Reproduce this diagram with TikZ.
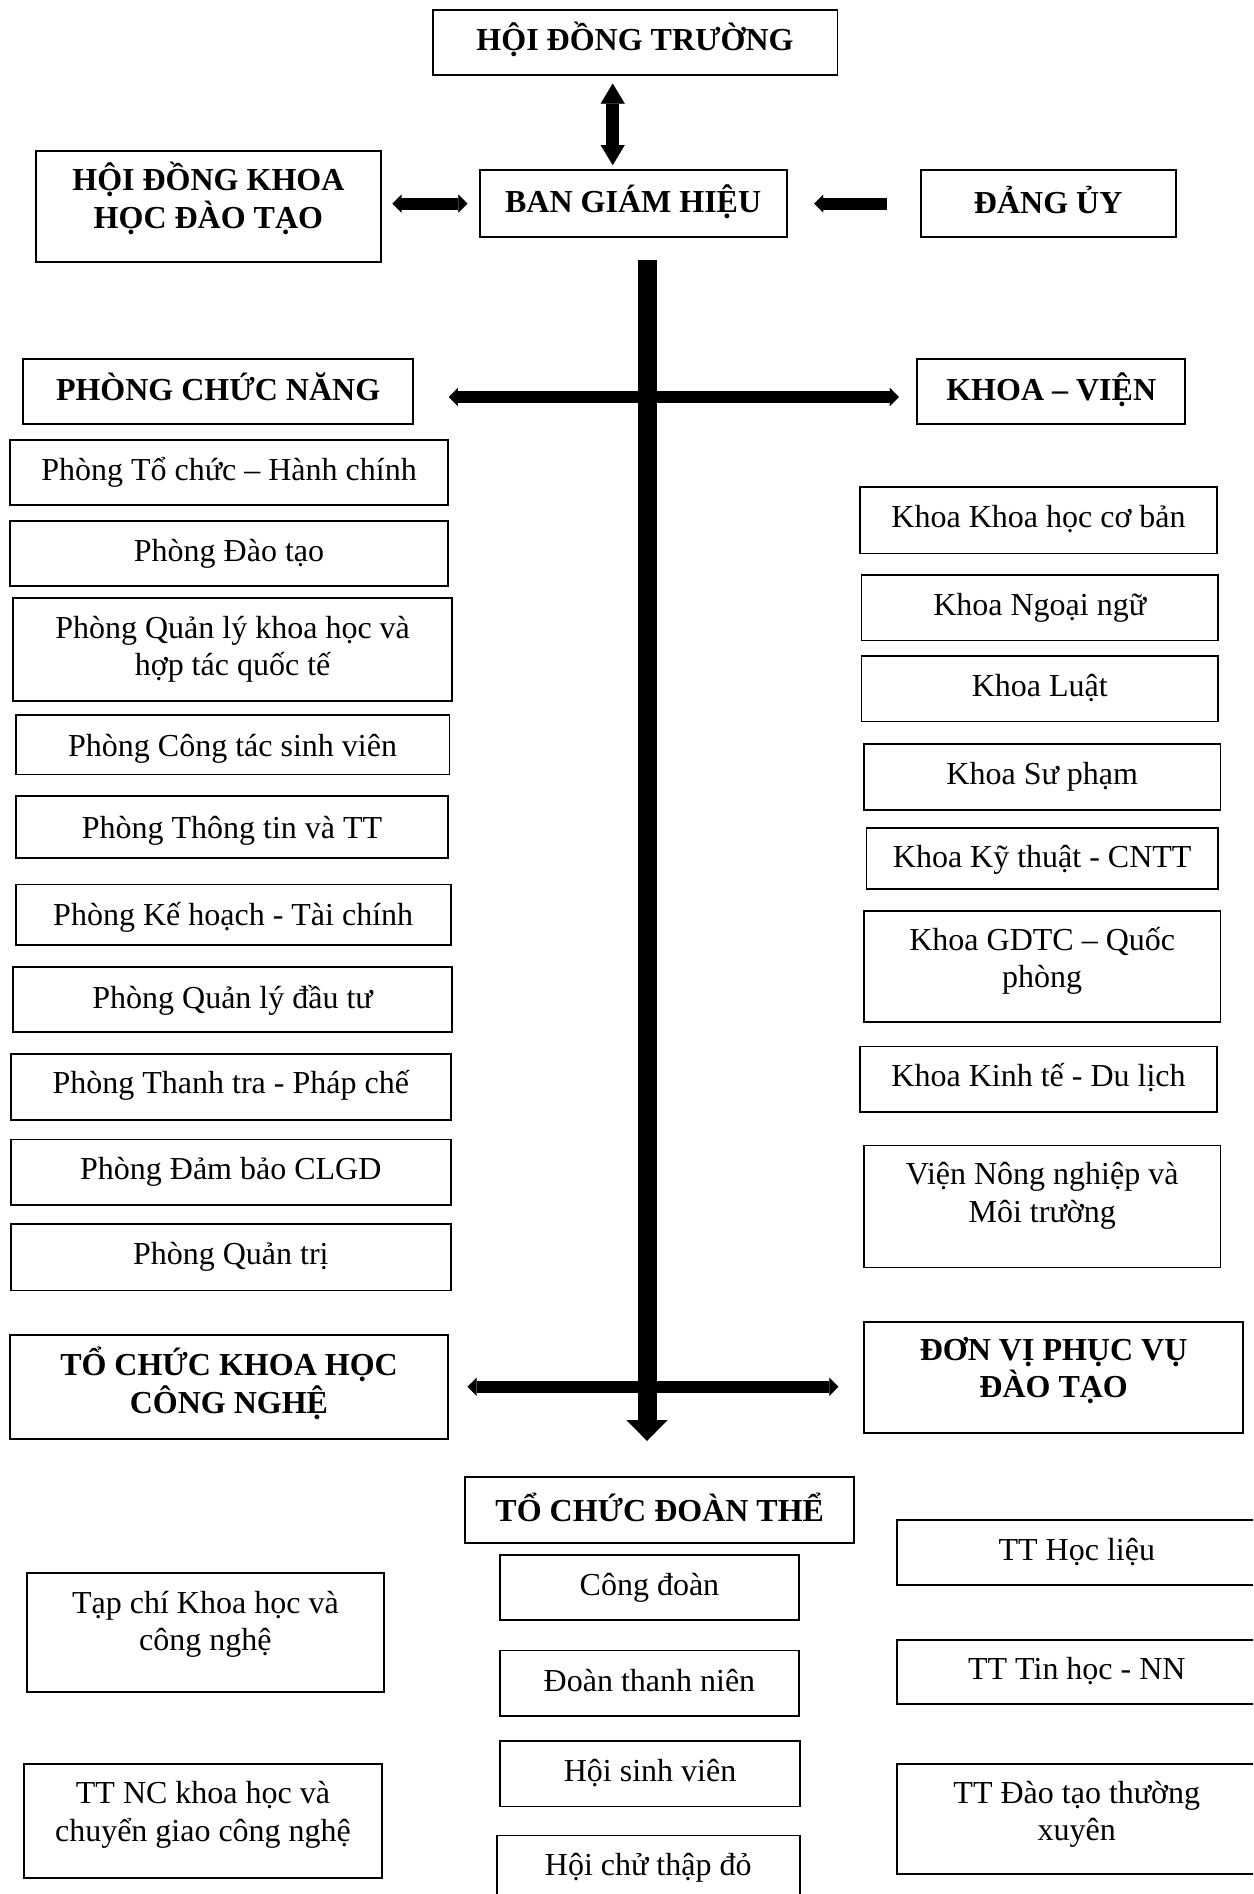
\documentclass[tikz,border=0pt]{standalone}
\usepackage{fontspec}
\setmainfont{Liberation Serif}
\usetikzlibrary{arrows.meta,calc,fit}
\tikzset{
  box/.style={draw, line width=1.8pt, inner sep=0pt, rectangle},
  txt/.style={align=center, inner sep=0pt, font=\fontsize{32}{37.5}\selectfont},
  btxt/.style={align=center, inner sep=0pt, font=\fontsize{32}{37.5}\selectfont\bfseries},
  dblv/.style={line width=12.7pt, arrows={Triangle[length=20pt,width=24pt,line width=0.1pt]-Triangle[length=20pt,width=24pt,line width=0.1pt]}},
  dblh/.style={line width=12pt, arrows={Triangle[length=9pt,width=18pt,line width=0.1pt]-Triangle[length=9pt,width=18pt,line width=0.1pt]}},
  sglh/.style={line width=12pt, arrows={-Triangle[length=9pt,width=18pt,line width=0.1pt]}},
  trunk/.style={line width=19pt, arrows={-Triangle[length=20.7pt,width=41pt,line width=0.1pt]}},
}
\newcommand\mybox[8]{%
  \node[box, fit={(#2,#3)(#4,#5)}] (#1) {};
  \node[#7] (#1t) at ($(#1.center)+(0,#6)$) {#8};
}
\begin{document}
\begin{tikzpicture}[x=1pt,y=-1pt]
\clip (0,0) rectangle (1253,1894);
\fill[white] (0,0) rectangle (1253,1894);
% top
\mybox{hdt}{432.6}{9.7}{837.4}{74.9}{-3}{btxt}{HỘI ĐỒNG TRƯỜNG}
\mybox{hdkh}{36.2}{151}{380.6}{262.2}{-8}{btxt}{HỘI ĐỒNG KHOA\\HỌC ĐÀO TẠO}
\mybox{bgh}{479.7}{170.4}{786.6}{236.8}{-1.5}{btxt}{BAN GIÁM HIỆU}
\mybox{dangu}{920.7}{170.4}{1175.7}{236.8}{-4}{btxt}{ĐẢNG ỦY}
\mybox{pcn}{23}{358.9}{413.2}{424.1}{-4.5}{btxt}{PHÒNG CHỨC NĂNG}
\mybox{kv}{917.1}{358.9}{1185.3}{424.1}{-2}{btxt}{KHOA – VIỆN}
% left column
\mybox{p1}{9.7}{439.8}{448.3}{505.1}{0}{txt}{Phòng Tổ chức – Hành chính}
\mybox{p2}{9.7}{520.8}{448.3}{586}{0}{txt}{Phòng Đào tạo}
\mybox{p3}{13.3}{598.1}{451.9}{700.8}{0}{txt}{Phòng Quản lý khoa học và\\hợp tác quốc tế}
\mybox{p4}{15.7}{715.3}{449.5}{774.5}{3.5}{txt}{Phòng Công tác sinh viên}
\mybox{p5}{15.7}{796.3}{448.3}{857.9}{3.5}{txt}{Phòng Thông tin và TT}
\mybox{p6}{15.7}{884.5}{450.7}{944.9}{2.5}{txt}{Phòng Kế hoạch - Tài chính}
\mybox{p7}{13.3}{966.6}{451.9}{1031.9}{1}{txt}{Phòng Quản lý đầu tư}
\mybox{p8}{10.9}{1053.6}{450.7}{1120.1}{-1}{txt}{Phòng Thanh tra - Pháp chế}
\mybox{p9}{10.9}{1139.4}{450.7}{1204.7}{0}{txt}{Phòng Đảm bảo CLGD}
\mybox{p10}{10.9}{1224}{450.7}{1290.5}{0}{txt}{Phòng Quản trị}
% right column
\mybox{k1}{860.3}{486.9}{1216.8}{553.4}{-1}{txt}{Khoa Khoa học cơ bản}
\mybox{k2}{861.5}{575.2}{1218}{640.4}{0}{txt}{Khoa Ngoại ngữ}
\mybox{k3}{861.5}{656.1}{1218}{721.4}{-1}{txt}{Khoa Luật}
\mybox{k4}{864}{744.3}{1220.4}{809.6}{0}{txt}{Khoa Sư phạm}
\mybox{k5}{866.4}{827.7}{1218}{889.3}{1}{txt}{Khoa Kỹ thuật - CNTT}
\mybox{k6}{864}{911.1}{1220.4}{1022.2}{-6}{txt}{Khoa GDTC – Quốc\\phòng}
\mybox{k7}{860.3}{1046.4}{1216.8}{1111.6}{-1}{txt}{Khoa Kinh tế - Du lịch}
\mybox{k8}{864}{1145.5}{1220.4}{1267.5}{-10.5}{txt}{Viện Nông nghiệp và\\Môi trường}
% lower headers
\mybox{tckh}{9.7}{1335.2}{448.3}{1439.1}{-4}{btxt}{TỔ CHỨC KHOA HỌC\\CÔNG NGHỆ}
\mybox{dvpv}{864}{1321.9}{1243.3}{1433.1}{-7}{btxt}{ĐƠN VỊ PHỤC VỤ\\ĐÀO TẠO}
\mybox{tcdt}{465.2}{1476.6}{854.3}{1543}{-2.5}{btxt}{TỔ CHỨC ĐOÀN THỂ}
% bottom
\mybox{d1}{500.2}{1555.1}{798.7}{1620.3}{0}{txt}{Công đoàn}
\mybox{d2}{500.2}{1650.5}{798.7}{1715.8}{-2.5}{txt}{Đoàn thanh niên}
\mybox{d3}{500.2}{1741.2}{799.9}{1806.4}{-1}{txt}{Hội sinh viên}
\mybox{d4}{496.6}{1835.4}{799.9}{1900}{0}{txt}{Hội chử thập đỏ}
\mybox{c1}{26.6}{1573.2}{384.2}{1691.6}{-8}{txt}{Tạp chí Khoa học và\\công nghệ}
\mybox{c2}{24.2}{1764.1}{381.8}{1877.7}{-6}{txt}{TT NC khoa học và\\chuyển giao công nghệ}
\mybox{t1}{896.6}{1520}{1257}{1585.3}{-1}{txt}{TT Học liệu}
\mybox{t2}{896.6}{1639.7}{1257}{1703.7}{-1}{txt}{TT Tin học - NN}
\mybox{t3}{896.6}{1764.1}{1257}{1874.1}{-5}{txt}{TT Đào tạo thường\\xuyên}
% connectors
\coordinate (vx) at (612.7,0);
\draw[dblv, shorten <=7.8pt, shorten >=4.4pt] (hdt.south -| vx) -- (bgh.north -| vx);
\draw[dblh, shorten <=11pt, shorten >=11.4pt] (hdkh.east |- bgh.west) -- (bgh.west);
\draw[sglh, shorten <=32.7pt, shorten >=26.7pt] (dangu.west) -- (bgh.east);
\coordinate (tx) at (647,0);
\draw[trunk, shorten <=22.2pt, shorten >=34.9pt] (bgh.south -| tx) -- (tcdt.north -| tx);
\coordinate (hy1) at (0,397);
\draw[dblh, shorten <=34.8pt, shorten >=17.3pt] (pcn.east |- hy1) -- (kv.west |- hy1);
\coordinate (hy2) at (0,1386.7);
\draw[dblh, shorten <=18.4pt, shorten >=24.7pt] (tckh.east |- hy2) -- (dvpv.west |- hy2);
\end{tikzpicture}
\end{document}
